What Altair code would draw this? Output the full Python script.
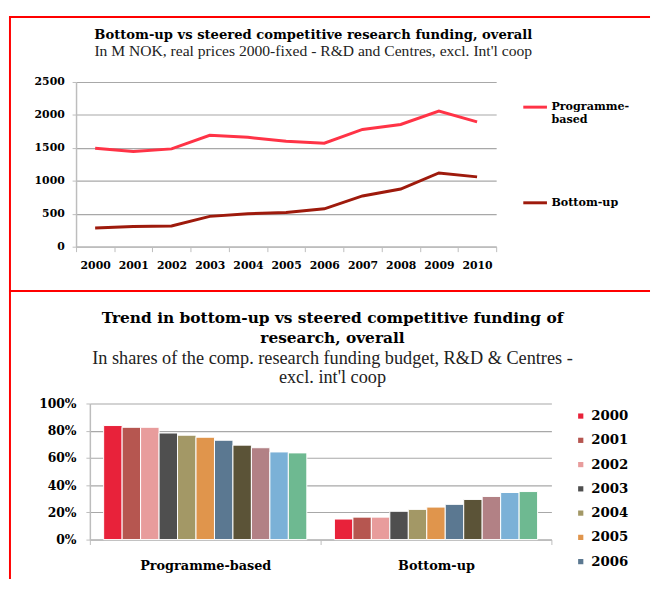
import altair as alt
import pandas as pd

# ---------------- data ----------------
years = ["2000", "2001", "2002", "2003", "2004", "2005", "2006", "2007", "2008", "2009", "2010"]
series_names = ["Programme-based", "Bottom-up"]

# Top chart: M NOK, real prices 2000-fixed
programme_mnok = [1495, 1446, 1485, 1690, 1660, 1600, 1570, 1780, 1855, 2060, 1895]
bottomup_mnok = [285, 305, 315, 460, 500, 520, 575, 770, 875, 1120, 1060]

# Bottom chart: shares of competitive research funding budget (%)
programme_share = [83.8, 82.5, 82.5, 78.3, 76.7, 75.2, 73.0, 69.4, 67.5, 64.4, 63.7]
bottomup_share = [15.1, 16.5, 16.5, 20.8, 22.2, 23.9, 25.9, 29.5, 31.7, 34.6, 35.3]

line_colors = ["#FF3346", "#9E1A0C"]
year_colors = ["#E8223A", "#B65650", "#E89C9C", "#4F4F4F", "#A39866", "#E0954C",
               "#5B7891", "#5B5337", "#B28185", "#7BB1D7", "#6EB991"]
legend_years = years[:7]

SERIF = "DejaVu Serif"
SUB = "Liberation Serif"

# ---------------- top: line chart ----------------
line_df = pd.DataFrame({
    "Year": years + years,
    "Series": [series_names[0]] * len(years) + [series_names[1]] * len(years),
    "Value": programme_mnok + bottomup_mnok,
})

lines = alt.Chart(line_df).mark_line(strokeWidth=3).encode(
    x=alt.X("Year:O", sort=years,
            scale=alt.Scale(type="band", paddingInner=0, paddingOuter=0),
            axis=alt.Axis(title=None, labelAngle=0, tickBand="extent", tickSize=5,
                          labelPadding=8, labelFontSize=11, grid=False)),
    y=alt.Y("Value:Q", scale=alt.Scale(domain=[0, 2500]),
            axis=alt.Axis(title=None, values=[0, 500, 1000, 1500, 2000, 2500], format="d",
                          tickSize=4, labelPadding=8, labelFontSize=11, grid=True)),
    color=alt.Color("Series:N", sort=series_names,
                    scale=alt.Scale(domain=series_names, range=line_colors),
                    legend=alt.Legend(title=None, orient="none", legendX=452, legendY=12,
                                      symbolType="stroke", symbolSize=576, symbolStrokeWidth=3,
                                      labelFont=SERIF, labelFontWeight="bold", labelFontSize=11.3,
                                      labelColor="black", labelBaseline="middle", labelOffset=3,
                                      rowPadding=64,
                                      labelExpr="datum.label == 'Programme-based' ? ['Programme-', 'based'] : datum.label")),
)

one = pd.DataFrame({"k": [0]})
border_top = alt.Chart(one).mark_rule(color="#FF0000", strokeWidth=2).encode(
    x=alt.value(-68), x2=alt.value(582), y=alt.value(-66))
border_mid = alt.Chart(one).mark_rule(color="#FF0000", strokeWidth=2).encode(
    x=alt.value(-68), x2=alt.value(582), y=alt.value(212))
border_left = alt.Chart(one).mark_rule(color="#FF0000", strokeWidth=2).encode(
    x=alt.value(-67), y=alt.value(-66), y2=alt.value(504))

top = alt.layer(border_top, border_mid, border_left, lines).properties(
    width=426, height=167,
    title=alt.TitleParams(
        text="Bottom-up vs steered competitive research funding, overall",
        subtitle="In M NOK, real prices 2000-fixed - R&D and Centres, excl. Int'l coop",
        font=SERIF, fontSize=13.3, fontWeight="bold", color="black",
        subtitleFont=SUB, subtitleFontSize=15.8, subtitleColor="#222222",
        subtitlePadding=2, anchor="middle", frame="group", dx=27.5, offset=-43),
)

# ---------------- bottom: grouped bars ----------------
bar_df = pd.DataFrame({
    "Category": [series_names[0]] * len(years) + [series_names[1]] * len(years),
    "Year": years + years,
    "Share": [v / 100 for v in programme_share] + [v / 100 for v in bottomup_share],
})

bars = alt.Chart(bar_df).mark_bar(stroke="white", strokeWidth=1).encode(
    x=alt.X("Category:N", sort=series_names,
            scale=alt.Scale(range=[14, 482], paddingInner=0, paddingOuter=0),
            axis=alt.Axis(title=None, labelAngle=0, tickBand="extent", tickSize=5,
                          labelPadding=15, labelFontSize=13, grid=False)),
    xOffset=alt.XOffset("Year:N", sort=years,
                        scale=alt.Scale(paddingInner=0, paddingOuter=0.747)),
    y=alt.Y("Share:Q", scale=alt.Scale(domain=[0, 1]),
            axis=alt.Axis(title=None, format=".0%", values=[0, 0.2, 0.4, 0.6, 0.8, 1.0],
                          offset=-14, tickSize=4, labelPadding=10, labelFontSize=12.5, grid=True)),
    color=alt.Color("Year:N", sort=years,
                    scale=alt.Scale(domain=years, range=year_colors),
                    legend=alt.Legend(title=None, orient="none", legendX=505, legendY=6,
                                      values=legend_years, symbolType="square", symbolSize=28,
                                      symbolStrokeWidth=0,
                                      labelFont=SERIF, labelFontWeight="bold", labelFontSize=13.5,
                                      labelColor="black", labelBaseline="middle", labelOffset=4,
                                      rowPadding=9.6)),
).properties(
    width=482, height=138,
    title=alt.TitleParams(
        text=["Trend in bottom-up vs steered competitive funding of", "research, overall"],
        subtitle=["In shares of the comp. research funding budget, R&D & Centres -",
                  "excl. int'l coop"],
        font=SERIF, fontSize=15.6, fontWeight="bold", color="black", lineHeight=20.5,
        subtitleFont=SUB, subtitleFontSize=18.5, subtitleColor="#222222", subtitleLineHeight=19.5,
        subtitlePadding=3, anchor="middle", frame="group", dx=19, offset=11),
)

chart = alt.vconcat(top, bars, spacing=159, bounds="flush").resolve_scale(
    color="independent"
).properties(
    padding={"left": 0, "top": 4, "right": 0, "bottom": 0}
).configure_view(stroke=None).configure_axis(
    labelFont=SERIF, labelFontWeight="bold", labelColor="black",
    domainColor="#BDBDBD", tickColor="#BDBDBD", gridColor="#A8A8A8",
    domainWidth=1.5, gridWidth=1.2,
)

chart.save("out.html", embed_options={"renderer": "svg", "actions": False})
